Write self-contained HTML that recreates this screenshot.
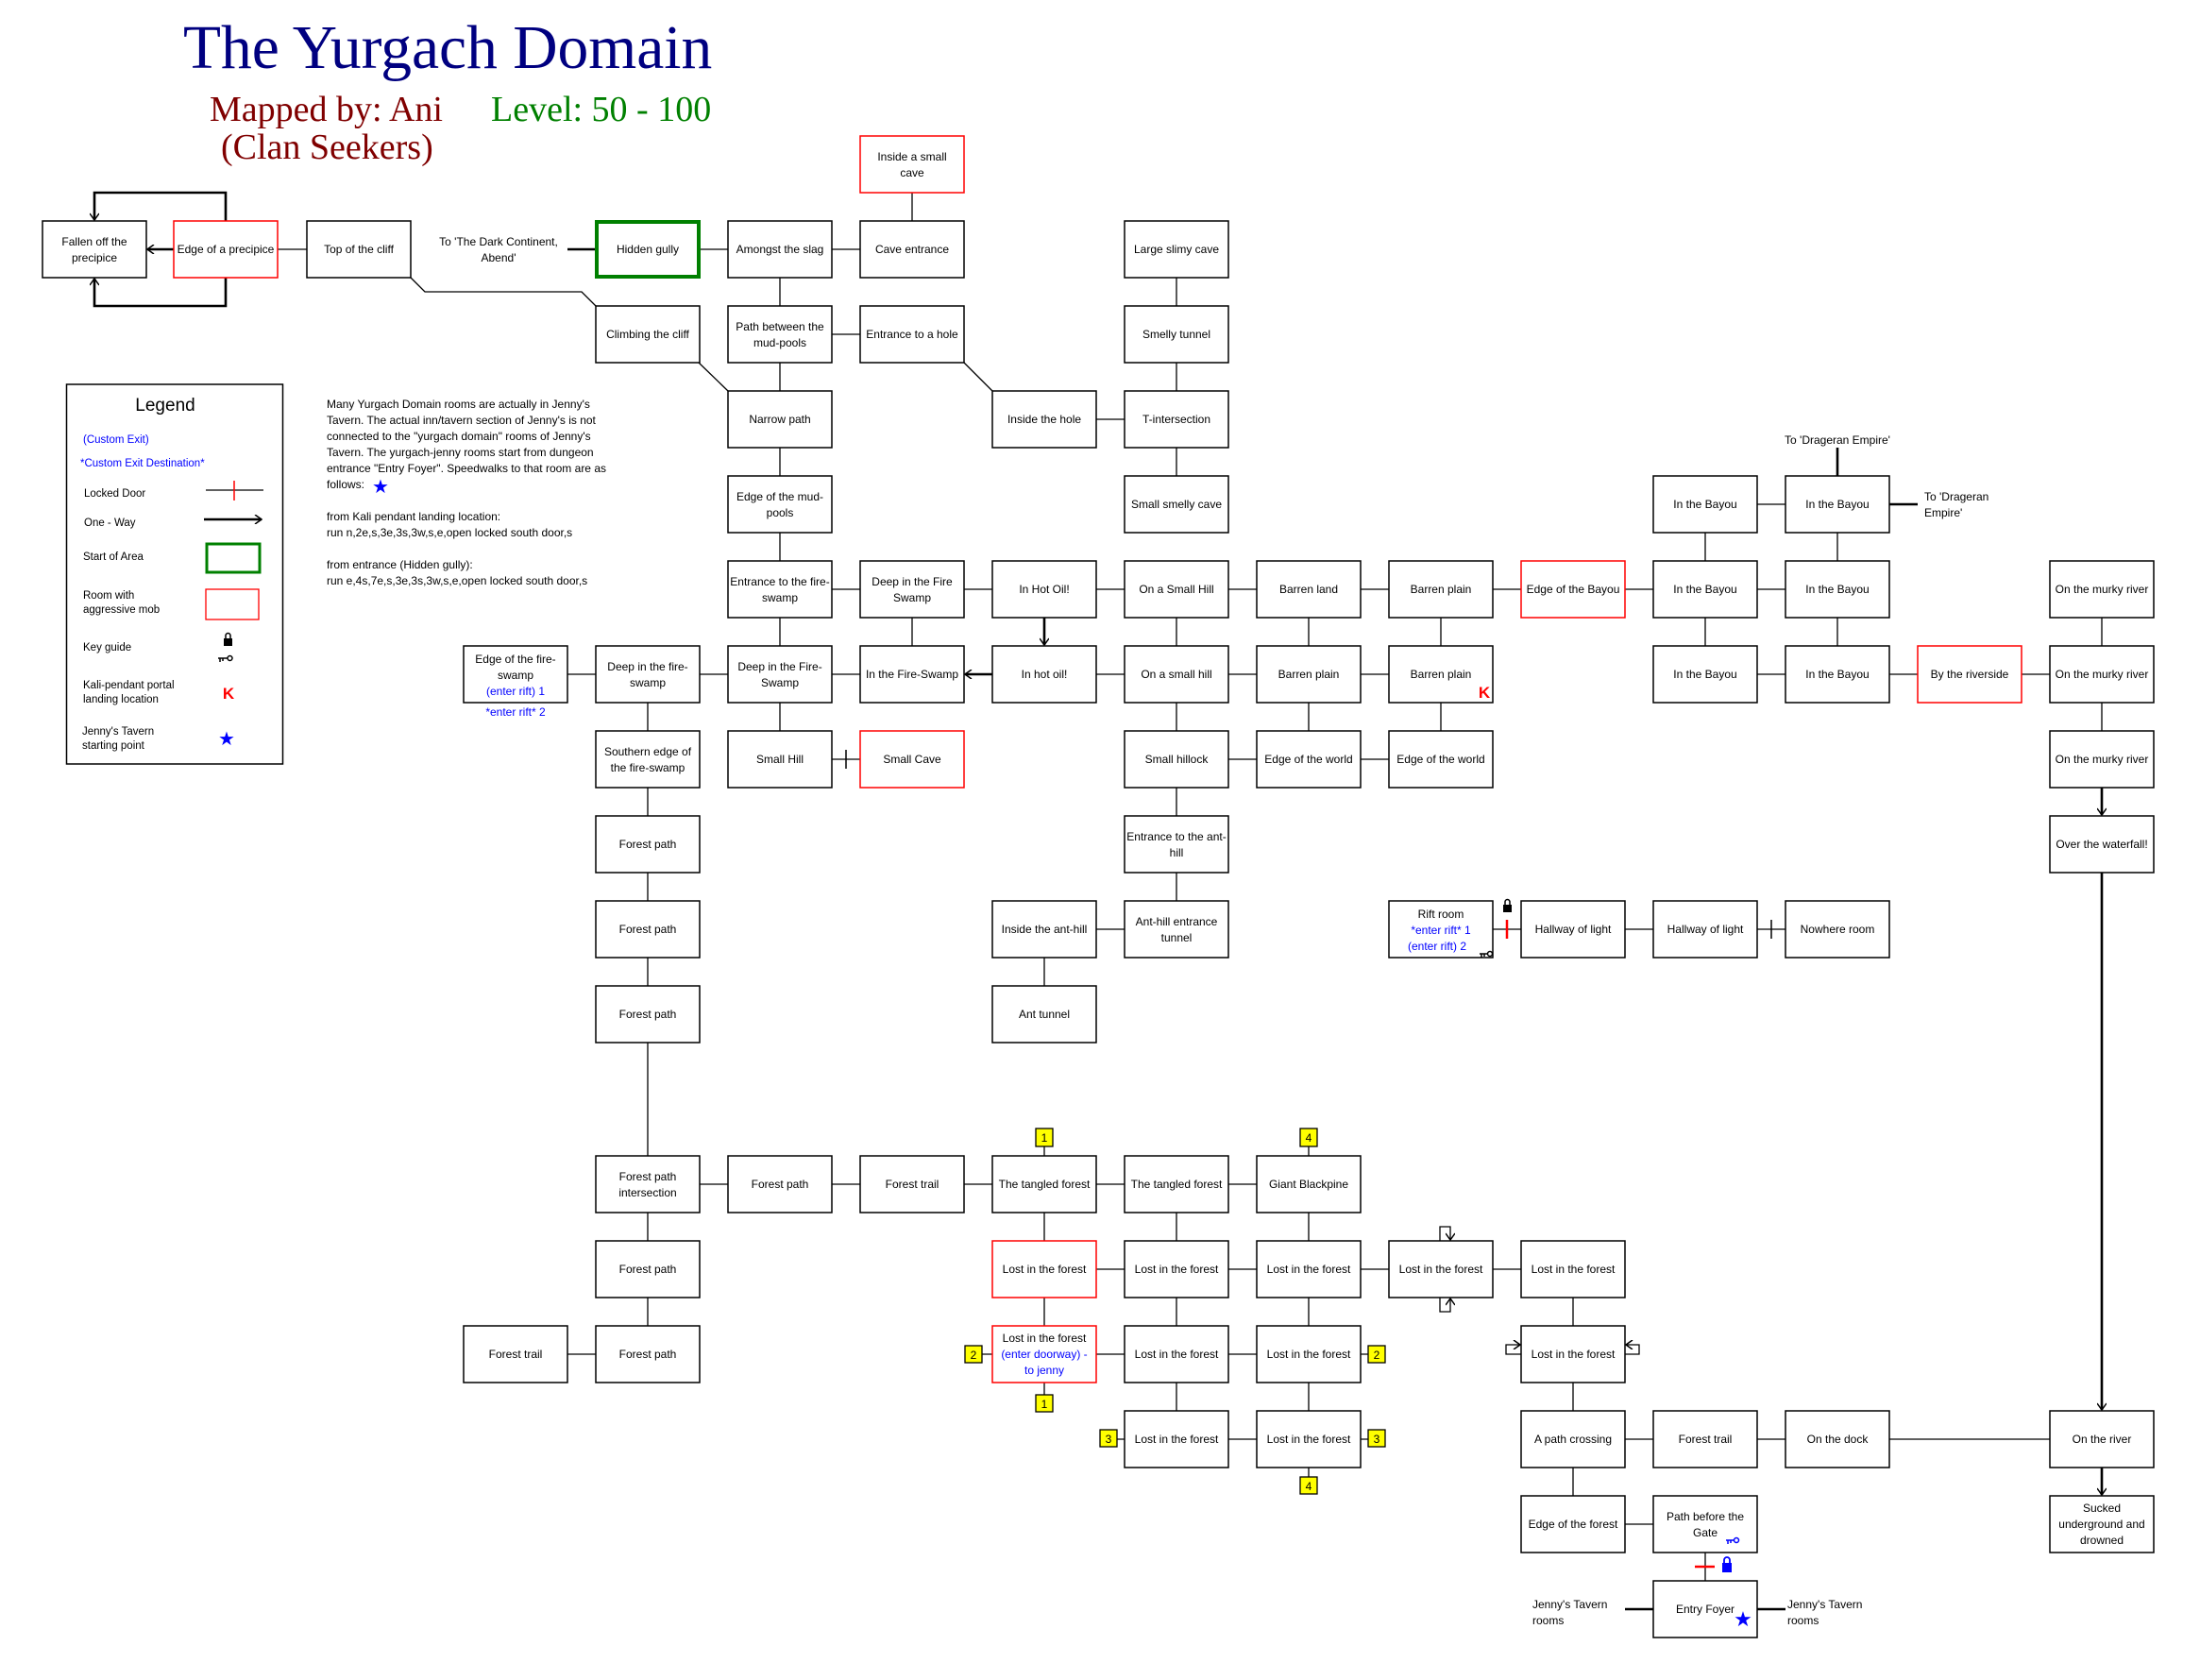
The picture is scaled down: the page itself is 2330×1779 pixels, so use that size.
<!DOCTYPE html>
<html><head><meta charset="utf-8"><style>
html,body{margin:0;padding:0;background:#fff}
svg{display:block}
.b{fill:#fff;stroke:#000;stroke-width:1.5}
.rd{fill:#fff;stroke:#f00;stroke-width:1.5}
.l{stroke:#000;stroke-width:1.3;fill:none}
.t{stroke:#000;stroke-width:2.6;fill:none}
text{font-family:"Liberation Sans",sans-serif;font-size:12px;fill:#000}
.c{text-anchor:middle}
.bl{fill:#00f}
.y{fill:#ff0;stroke:#000;stroke-width:1.3}
</style></head><body>
<svg width="2330" height="1779" viewBox="0 0 2330 1779" xmlns="http://www.w3.org/2000/svg">
<defs>
<marker id="a" markerWidth="10" markerHeight="10" refX="9" refY="5" orient="auto" markerUnits="userSpaceOnUse"><path d="M2,0 L9,5 L2,10" fill="none" stroke="#000" stroke-width="1.5"/></marker>
</defs>

<!-- Title -->
<text x="194" y="72" style="font-family:'Liberation Serif',serif;font-size:65.5px;fill:#000080">The Yurgach Domain</text>
<text x="222" y="128" style="font-family:'Liberation Serif',serif;font-size:38px;fill:#800000">Mapped by: Ani</text>
<text x="520" y="128" style="font-family:'Liberation Serif',serif;font-size:38px;fill:#008000">Level: 50 - 100</text>
<text x="234" y="168" style="font-family:'Liberation Serif',serif;font-size:38px;fill:#800000">(Clan Seekers)</text>

<!-- Legend -->
<rect x="70.5" y="407" width="229" height="402" fill="#fff" stroke="#000" stroke-width="1.5"/>
<text x="175" y="435" class="c" style="font-size:19px">Legend</text>
<text x="88" y="469" class="bl" style="font-size:11.5px">(Custom Exit)</text>
<text x="85" y="494" class="bl" style="font-size:11.5px">*Custom Exit Destination*</text>
<text x="89" y="526" style="font-size:11.5px">Locked Door</text>
<path d="M218 519H279" class="l"/><path d="M248 509V530" stroke="#f00" stroke-width="1.5"/>
<text x="89" y="557" style="font-size:11.5px">One - Way</text>
<path d="M216 550H277" class="t" marker-end="url(#a)"/>
<text x="88" y="593" style="font-size:11.5px">Start of Area</text>
<rect x="219" y="576" width="56" height="30" fill="none" stroke="#008000" stroke-width="3"/>
<text x="88" y="634" style="font-size:11.5px">Room with</text>
<text x="88" y="649" style="font-size:11.5px">aggressive mob</text>
<rect x="218" y="624" width="56" height="32" fill="none" stroke="#f00" stroke-width="1.3"/>
<text x="88" y="689" style="font-size:11.5px">Key guide</text>
<rect x="237" y="676" width="9" height="8" fill="#000"/><path d="M239 676v-3a2.5 2.5 0 0 1 5 0v3" stroke="#000" stroke-width="1.5" fill="none"/>
<path d="M231 697h10M233 697v4M236 697v3" stroke="#000" stroke-width="1.5"/><circle cx="243.5" cy="697" r="2.5" fill="none" stroke="#000" stroke-width="1.5"/>
<text x="88" y="729" style="font-size:11.5px">Kali-pendant portal</text>
<text x="88" y="744" style="font-size:11.5px">landing location</text>
<text x="242" y="740" class="c" style="font-size:17px;font-weight:bold;fill:#f00">K</text>
<text x="87" y="778" style="font-size:11.5px">Jenny's Tavern</text>
<text x="87" y="793" style="font-size:11.5px">starting point</text>
<text x="240" y="789" class="c" style="font-size:20px;fill:#00f">★</text>

<!-- Notes -->
<g style="font-size:11.8px">
<text x="346" y="432">Many Yurgach Domain rooms are actually in Jenny's</text>
<text x="346" y="449">Tavern. The actual inn/tavern section of Jenny's is not</text>
<text x="346" y="466">connected to the "yurgach domain" rooms of Jenny's</text>
<text x="346" y="483">Tavern. The yurgach-jenny rooms start from dungeon</text>
<text x="346" y="500">entrance "Entry Foyer". Speedwalks to that room are as</text>
<text x="346" y="517">follows:</text>
<text x="346" y="551">from Kali pendant landing location:</text>
<text x="346" y="568">run n,2e,s,3e,3s,3w,s,e,open locked south door,s</text>
<text x="346" y="602">from entrance (Hidden gully):</text>
<text x="346" y="619">run e,4s,7e,s,3e,3s,3w,s,e,open locked south door,s</text>
</g>
<text x="403" y="522" class="c" style="font-size:20px;fill:#00f">★</text>

<!-- connectors -->
<path class="l" d="M294 264H325 M741 264h30 M881 264h30 M881 354h30 M1161 444h30 M1861 534h30
M881 624h30 M1021 624h30 M1161 624h30 M1301 624h30 M1441 624h30 M1581 624h30 M1721 624h30 M1861 624h30
M601 714h30 M741 714h30 M881 714h30 M1161 714h30 M1301 714h30 M1441 714h30 M1861 714h30 M2001 714h30 M2141 714h30
M881 804h30 M1301 804h30 M1441 804h30
M1161 984h30 M1581 984h30 M1721 984h30 M1861 984h30
M741 1254h30 M881 1254h30 M1021 1254h30 M1161 1254h30 M1301 1254h30
M1161 1344h30 M1301 1344h30 M1441 1344h30 M1581 1344h30
M601 1434h30 M1161 1434h30 M1301 1434h30
M1301 1524h30 M1721 1524h30 M1861 1524h30 M2001 1524H2171
M1721 1614h30
M966 204v30
M826 294v30 M826 384v30 M826 474v30 M826 564v30 M826 654v30 M826 744v30
M966 654v30
M1246 294v30 M1246 384v30 M1246 474v30 M1246 654v30 M1246 744v30 M1246 834v30 M1246 924v30
M1386 654v30 M1386 744v30 M1526 654v30 M1526 744v30
M1806 564v30 M1806 654v30 M1946 564v30 M1946 654v30
M2226 654v30 M2226 744v30
M686 744v30 M686 834v30 M686 924v30 M686 1014v30 M686 1104V1224 M686 1284v30 M686 1374v30
M1106 1014v30 M1106 1284v30 M1106 1374v30
M1246 1284v30 M1246 1374v30 M1246 1464v30
M1386 1284v30 M1386 1374v30 M1386 1464v30
M1666 1374v30 M1666 1464v30 M1666 1554v30
M1806 1644v30
M435 294L450 309H616L631 324 M740 384L771 414 M1021 384L1051 414
M1106 1214V1224 M1386 1214V1224 M1040 1434H1051 M1106 1464V1477 M1441 1434H1449 M1183 1524H1191 M1441 1524H1449 M1386 1554V1564"/>

<!-- thick / one-way -->
<path class="t" d="M601 264H631 M1946 474V504 M2001 534H2031 M1721 1704H1751 M1861 1704H1891"/>
<path class="t" d="M184 264H156" marker-end="url(#a)"/>
<path class="t" d="M239 234V204H100V233" marker-end="url(#a)"/>
<path class="t" d="M239 294V324H100V295" marker-end="url(#a)"/>
<path class="t" d="M1106 654V683" marker-end="url(#a)"/>
<path class="t" d="M1051 714H1022" marker-end="url(#a)"/>
<path class="t" d="M2226 834V863" marker-end="url(#a)"/>
<path class="t" d="M2226 924V1493" marker-end="url(#a)"/>
<path class="t" d="M2226 1554V1583" marker-end="url(#a)"/>
<!-- self loops -->
<path class="l" d="M1525 1314V1299H1536V1313" marker-end="url(#a)"/>
<path class="l" d="M1525 1374V1389H1536V1375" marker-end="url(#a)"/>
<path class="l" d="M1611 1434H1595V1424H1610" marker-end="url(#a)"/>
<path class="l" d="M1721 1434H1736V1424H1722" marker-end="url(#a)"/>

<!-- door ticks -->
<path d="M896 794V814" stroke="#000" stroke-width="1.5"/>
<path d="M1876 974V994" stroke="#000" stroke-width="1.5"/>
<path d="M1596 974V994" stroke="#f00" stroke-width="2.5"/>
<path d="M1795 1659H1816" stroke="#f00" stroke-width="2.5"/>

<!-- boxes -->
<g>
<rect class="b" x="45" y="234" width="110" height="60"/>
<rect class="rd" x="184" y="234" width="110" height="60"/>
<rect class="b" x="325" y="234" width="110" height="60"/>
<rect x="632" y="235" width="108" height="58" fill="#fff" stroke="#008000" stroke-width="4"/>
<rect class="b" x="771" y="234" width="110" height="60"/>
<rect class="rd" x="911" y="144" width="110" height="60"/>
<rect class="b" x="911" y="234" width="110" height="60"/>
<rect class="b" x="1191" y="234" width="110" height="60"/>
<rect class="b" x="631" y="324" width="110" height="60"/>
<rect class="b" x="771" y="324" width="110" height="60"/>
<rect class="b" x="911" y="324" width="110" height="60"/>
<rect class="b" x="1191" y="324" width="110" height="60"/>
<rect class="b" x="771" y="414" width="110" height="60"/>
<rect class="b" x="1051" y="414" width="110" height="60"/>
<rect class="b" x="1191" y="414" width="110" height="60"/>
<rect class="b" x="771" y="504" width="110" height="60"/>
<rect class="b" x="1191" y="504" width="110" height="60"/>
<rect class="b" x="1751" y="504" width="110" height="60"/>
<rect class="b" x="1891" y="504" width="110" height="60"/>
<rect class="b" x="771" y="594" width="110" height="60"/>
<rect class="b" x="911" y="594" width="110" height="60"/>
<rect class="b" x="1051" y="594" width="110" height="60"/>
<rect class="b" x="1191" y="594" width="110" height="60"/>
<rect class="b" x="1331" y="594" width="110" height="60"/>
<rect class="b" x="1471" y="594" width="110" height="60"/>
<rect class="rd" x="1611" y="594" width="110" height="60"/>
<rect class="b" x="1751" y="594" width="110" height="60"/>
<rect class="b" x="1891" y="594" width="110" height="60"/>
<rect class="b" x="2171" y="594" width="110" height="60"/>
<rect class="b" x="491" y="684" width="110" height="60"/>
<rect class="b" x="631" y="684" width="110" height="60"/>
<rect class="b" x="771" y="684" width="110" height="60"/>
<rect class="b" x="911" y="684" width="110" height="60"/>
<rect class="b" x="1051" y="684" width="110" height="60"/>
<rect class="b" x="1191" y="684" width="110" height="60"/>
<rect class="b" x="1331" y="684" width="110" height="60"/>
<rect class="b" x="1471" y="684" width="110" height="60"/>
<rect class="b" x="1751" y="684" width="110" height="60"/>
<rect class="b" x="1891" y="684" width="110" height="60"/>
<rect class="rd" x="2031" y="684" width="110" height="60"/>
<rect class="b" x="2171" y="684" width="110" height="60"/>
<rect class="b" x="631" y="774" width="110" height="60"/>
<rect class="b" x="771" y="774" width="110" height="60"/>
<rect class="rd" x="911" y="774" width="110" height="60"/>
<rect class="b" x="1191" y="774" width="110" height="60"/>
<rect class="b" x="1331" y="774" width="110" height="60"/>
<rect class="b" x="1471" y="774" width="110" height="60"/>
<rect class="b" x="2171" y="774" width="110" height="60"/>
<rect class="b" x="631" y="864" width="110" height="60"/>
<rect class="b" x="1191" y="864" width="110" height="60"/>
<rect class="b" x="2171" y="864" width="110" height="60"/>
<rect class="b" x="631" y="954" width="110" height="60"/>
<rect class="b" x="1051" y="954" width="110" height="60"/>
<rect class="b" x="1191" y="954" width="110" height="60"/>
<rect class="b" x="1471" y="954" width="110" height="60"/>
<rect class="b" x="1611" y="954" width="110" height="60"/>
<rect class="b" x="1751" y="954" width="110" height="60"/>
<rect class="b" x="1891" y="954" width="110" height="60"/>
<rect class="b" x="631" y="1044" width="110" height="60"/>
<rect class="b" x="1051" y="1044" width="110" height="60"/>
<rect class="b" x="631" y="1224" width="110" height="60"/>
<rect class="b" x="771" y="1224" width="110" height="60"/>
<rect class="b" x="911" y="1224" width="110" height="60"/>
<rect class="b" x="1051" y="1224" width="110" height="60"/>
<rect class="b" x="1191" y="1224" width="110" height="60"/>
<rect class="b" x="1331" y="1224" width="110" height="60"/>
<rect class="b" x="631" y="1314" width="110" height="60"/>
<rect class="rd" x="1051" y="1314" width="110" height="60"/>
<rect class="b" x="1191" y="1314" width="110" height="60"/>
<rect class="b" x="1331" y="1314" width="110" height="60"/>
<rect class="b" x="1471" y="1314" width="110" height="60"/>
<rect class="b" x="1611" y="1314" width="110" height="60"/>
<rect class="b" x="491" y="1404" width="110" height="60"/>
<rect class="b" x="631" y="1404" width="110" height="60"/>
<rect class="rd" x="1051" y="1404" width="110" height="60"/>
<rect class="b" x="1191" y="1404" width="110" height="60"/>
<rect class="b" x="1331" y="1404" width="110" height="60"/>
<rect class="b" x="1611" y="1404" width="110" height="60"/>
<rect class="b" x="1191" y="1494" width="110" height="60"/>
<rect class="b" x="1331" y="1494" width="110" height="60"/>
<rect class="b" x="1611" y="1494" width="110" height="60"/>
<rect class="b" x="1751" y="1494" width="110" height="60"/>
<rect class="b" x="1891" y="1494" width="110" height="60"/>
<rect class="b" x="2171" y="1494" width="110" height="60"/>
<rect class="b" x="1611" y="1584" width="110" height="60"/>
<rect class="b" x="1751" y="1584" width="110" height="60"/>
<rect class="b" x="2171" y="1584" width="110" height="60"/>
<rect class="b" x="1751" y="1674" width="110" height="60"/>
</g>

<!-- box labels -->
<g class="c" text-anchor="middle">
<text x="100" y="260">Fallen off the</text><text x="100" y="277">precipice</text>
<text x="239" y="268">Edge of a precipice</text>
<text x="380" y="268">Top of the cliff</text>
<text x="528" y="260">To 'The Dark Continent,</text><text x="528" y="277">Abend'</text>
<text x="686" y="268">Hidden gully</text>
<text x="826" y="268">Amongst the slag</text>
<text x="966" y="170">Inside a small</text><text x="966" y="187">cave</text>
<text x="966" y="268">Cave entrance</text>
<text x="1246" y="268">Large slimy cave</text>
<text x="686" y="358">Climbing the cliff</text>
<text x="826" y="350">Path between the</text><text x="826" y="367">mud-pools</text>
<text x="966" y="358">Entrance to a hole</text>
<text x="1246" y="358">Smelly tunnel</text>
<text x="826" y="448">Narrow path</text>
<text x="1106" y="448">Inside the hole</text>
<text x="1246" y="448">T-intersection</text>
<text x="826" y="530">Edge of the mud-</text><text x="826" y="547">pools</text>
<text x="1246" y="538">Small smelly cave</text>
<text x="1806" y="538">In the Bayou</text>
<text x="1946" y="538">In the Bayou</text>
<text x="1946" y="470">To 'Drageran Empire'</text>
<text x="826" y="620">Entrance to the fire-</text><text x="826" y="637">swamp</text>
<text x="966" y="620">Deep in the Fire</text><text x="966" y="637">Swamp</text>
<text x="1106" y="628">In Hot Oil!</text>
<text x="1246" y="628">On a Small Hill</text>
<text x="1386" y="628">Barren land</text>
<text x="1526" y="628">Barren plain</text>
<text x="1666" y="628">Edge of the Bayou</text>
<text x="1806" y="628">In the Bayou</text>
<text x="1946" y="628">In the Bayou</text>
<text x="2226" y="628">On the murky river</text>
<text x="546" y="702">Edge of the fire-</text><text x="546" y="719">swamp</text><text x="546" y="736" class="bl">(enter rift) 1</text>
<text x="546" y="758" class="bl">*enter rift* 2</text>
<text x="686" y="710">Deep in the fire-</text><text x="686" y="727">swamp</text>
<text x="826" y="710">Deep in the Fire-</text><text x="826" y="727">Swamp</text>
<text x="966" y="718">In the Fire-Swamp</text>
<text x="1106" y="718">In hot oil!</text>
<text x="1246" y="718">On a small hill</text>
<text x="1386" y="718">Barren plain</text>
<text x="1526" y="718">Barren plain</text>
<text x="1806" y="718">In the Bayou</text>
<text x="1946" y="718">In the Bayou</text>
<text x="2086" y="718">By the riverside</text>
<text x="2226" y="718">On the murky river</text>
<text x="686" y="800">Southern edge of</text><text x="686" y="817">the fire-swamp</text>
<text x="826" y="808">Small Hill</text>
<text x="966" y="808">Small Cave</text>
<text x="1246" y="808">Small hillock</text>
<text x="1386" y="808">Edge of the world</text>
<text x="1526" y="808">Edge of the world</text>
<text x="2226" y="808">On the murky river</text>
<text x="686" y="898">Forest path</text>
<text x="1246" y="890">Entrance to the ant-</text><text x="1246" y="907">hill</text>
<text x="2226" y="898">Over the waterfall!</text>
<text x="686" y="988">Forest path</text>
<text x="1106" y="988">Inside the ant-hill</text>
<text x="1246" y="980">Ant-hill entrance</text><text x="1246" y="997">tunnel</text>
<text x="1526" y="972">Rift room</text><text x="1526" y="989" class="bl">*enter rift* 1</text><text x="1522" y="1006" class="bl">(enter rift) 2</text>
<text x="1666" y="988">Hallway of light</text>
<text x="1806" y="988">Hallway of light</text>
<text x="1946" y="988">Nowhere room</text>
<text x="686" y="1078">Forest path</text>
<text x="1106" y="1078">Ant tunnel</text>
<text x="686" y="1250">Forest path</text><text x="686" y="1267">intersection</text>
<text x="826" y="1258">Forest path</text>
<text x="966" y="1258">Forest trail</text>
<text x="1106" y="1258">The tangled forest</text>
<text x="1246" y="1258">The tangled forest</text>
<text x="1386" y="1258">Giant Blackpine</text>
<text x="686" y="1348">Forest path</text>
<text x="1106" y="1348">Lost in the forest</text>
<text x="1246" y="1348">Lost in the forest</text>
<text x="1386" y="1348">Lost in the forest</text>
<text x="1526" y="1348">Lost in the forest</text>
<text x="1666" y="1348">Lost in the forest</text>
<text x="546" y="1438">Forest trail</text>
<text x="686" y="1438">Forest path</text>
<text x="1106" y="1421">Lost in the forest</text><text x="1106" y="1438" class="bl">(enter doorway) -</text><text x="1106" y="1455" class="bl">to jenny</text>
<text x="1246" y="1438">Lost in the forest</text>
<text x="1386" y="1438">Lost in the forest</text>
<text x="1666" y="1438">Lost in the forest</text>
<text x="1246" y="1528">Lost in the forest</text>
<text x="1386" y="1528">Lost in the forest</text>
<text x="1666" y="1528">A path crossing</text>
<text x="1806" y="1528">Forest trail</text>
<text x="1946" y="1528">On the dock</text>
<text x="2226" y="1528">On the river</text>
<text x="1666" y="1618">Edge of the forest</text>
<text x="1806" y="1610">Path before the</text><text x="1806" y="1627">Gate</text>
<text x="2226" y="1601">Sucked</text><text x="2226" y="1618">underground and</text><text x="2226" y="1635">drowned</text>
<text x="1806" y="1708">Entry Foyer</text>
</g>
<text x="2038" y="530">To 'Drageran</text><text x="2038" y="547">Empire'</text>
<text x="1623" y="1703">Jenny's Tavern</text><text x="1623" y="1720">rooms</text>
<text x="1893" y="1703">Jenny's Tavern</text><text x="1893" y="1720">rooms</text>

<!-- K markers, star, locks, keys -->
<text x="1572" y="739" class="c" style="font-size:17px;font-weight:bold;fill:#f00">K</text>
<text x="1846" y="1722" class="c" style="font-size:22px;fill:#00f">★</text>
<rect x="1592" y="958" width="9" height="8" fill="#000"/><path d="M1594 958v-3a2.5 2.5 0 0 1 5 0v3" stroke="#000" stroke-width="1.5" fill="none"/>
<path d="M1567 1010h9M1569 1010v4M1572 1010v3" stroke="#000" stroke-width="1.5"/><circle cx="1578" cy="1010" r="2.5" fill="none" stroke="#000" stroke-width="1.5"/>
<path d="M1828 1631h9M1830 1631v4M1833 1631v3" stroke="#00f" stroke-width="1.5"/><circle cx="1839" cy="1631" r="2.5" fill="none" stroke="#00f" stroke-width="1.5"/>
<rect x="1824" y="1655" width="10" height="10" fill="#00f"/><path d="M1826 1655v-3a3 3 0 0 1 6 0v3" stroke="#00f" stroke-width="1.8" fill="none"/>

<!-- yellow badges -->
<g style="font-size:12px" text-anchor="middle">
<rect class="y" x="1097" y="1195" width="18" height="19"/><text x="1106" y="1209">1</text>
<rect class="y" x="1377" y="1195" width="18" height="19"/><text x="1386" y="1209">4</text>
<rect class="y" x="1022" y="1425" width="18" height="18"/><text x="1031" y="1439">2</text>
<rect class="y" x="1097" y="1477" width="18" height="18"/><text x="1106" y="1491">1</text>
<rect class="y" x="1449" y="1425" width="18" height="18"/><text x="1458" y="1439">2</text>
<rect class="y" x="1165" y="1514" width="18" height="18"/><text x="1174" y="1528">3</text>
<rect class="y" x="1449" y="1514" width="18" height="18"/><text x="1458" y="1528">3</text>
<rect class="y" x="1377" y="1564" width="18" height="18"/><text x="1386" y="1578">4</text>
</g>
</svg>
</body></html>
